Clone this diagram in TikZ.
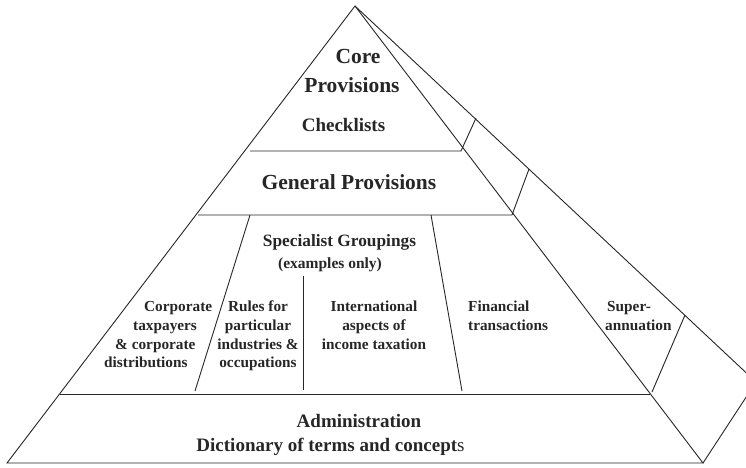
\documentclass[tikz,border=0pt]{standalone}
\usepackage{fontspec}
\setmainfont{Liberation Serif}
\begin{document}
\begin{tikzpicture}[x=1pt,y=-1pt,
  edge/.style={draw=black!85,line width=0.9pt,line join=miter},
  lbl/.style={inner sep=0pt,anchor=base,font=\bfseries\fontsize{15.3}{18}\selectfont,text=black!85},
  lblw/.style={lbl,anchor=base west},
  big/.style={lbl,font=\bfseries\fontsize{21.5}{26}\selectfont},
  mid/.style={lbl,font=\bfseries\fontsize{19}{22}\selectfont}]
\useasboundingbox (0,0) rectangle (746,467);
\clip (0,0) rectangle (746,467);
% corner points
\coordinate (A) at (355,6);
\coordinate (BL) at (7,463);
\coordinate (BR) at (703,463);
\coordinate (BK) at (756,382);
% outline
\draw[edge] (BL) -- (A) -- (BR) -- cycle;
\draw[edge] (A) -- (BK) -- (BR);
% horizontal tiers
\coordinate (c1) at (250,151); \coordinate (c2) at (461,151);
\coordinate (c3) at (476,118);
\coordinate (g1) at (198,215); \coordinate (g2) at (512,215);
\coordinate (g3) at (529,169);
\coordinate (a1) at (60,394); \coordinate (a2) at (650,394);
\coordinate (a3) at (652,392); \coordinate (a4) at (685,315);
\draw[edge] (c1) -- (c2) -- (c3);
\draw[edge] (g1) -- (g2) -- (g3);
\draw[edge] (a1) -- (a2);
\draw[edge] (a3) -- (a4);
% specialist dividers
\coordinate (d1t) at (250,215); \coordinate (d1b) at (195,391);
\coordinate (d2t) at (303,276); \coordinate (d2b) at (303,390);
\coordinate (d3t) at (431,215); \coordinate (d3b) at (462,391);
\draw[edge] (d1t) -- (d1b);
\draw[edge] (d2t) -- (d2b);
\draw[edge] (d3t) -- (d3b);
% texts
\node[big] (core) at (358,63) {Core};
\node[big] (prov) at (352,92) {Provisions};
\node[mid] (check) at (343.5,131) {Checklists};
\node[big] (gen) at (349,189) {General Provisions};
\node[lbl,font=\bfseries\fontsize{17.3}{20}\selectfont] (spec) at (339.5,246.5) {Specialist Groupings};
\node[lbl,font=\bfseries\fontsize{15.5}{18}\selectfont] (ex) at (330,268.5) {(examples only)};
\node[lblw] (cp1) at (144,311) {Corporate};
\node[lblw] (cp2) at (133,330) {taxpayers};
\node[lblw] (cp3) at (115,349) {\& corporate};
\node[lblw] (cp4) at (104,367.5) {distributions};
\node[lbl] (r1) at (258,311) {Rules for};
\node[lbl] (r2) at (258,330) {particular};
\node[lbl] (r3) at (258,349) {industries \&};
\node[lbl] (r4) at (258,367.5) {occupations};
\node[lbl] (i1) at (374,311) {International};
\node[lbl] (i2) at (374,330) {aspects of};
\node[lbl] (i3) at (374,349) {income taxation};
\node[lblw] (f1) at (468,311) {Financial};
\node[lblw] (f2) at (468,330) {transactions};
\node[lblw] (s1) at (607,311) {Super-};
\node[lblw] (s2) at (605,330) {annuation};
\node[mid] (adm) at (359,427.5) {Administration};
\node[mid] (dict) at (330.5,451) {Dictionary of terms and concept{\mdseries s}};
\end{tikzpicture}
\end{document}
